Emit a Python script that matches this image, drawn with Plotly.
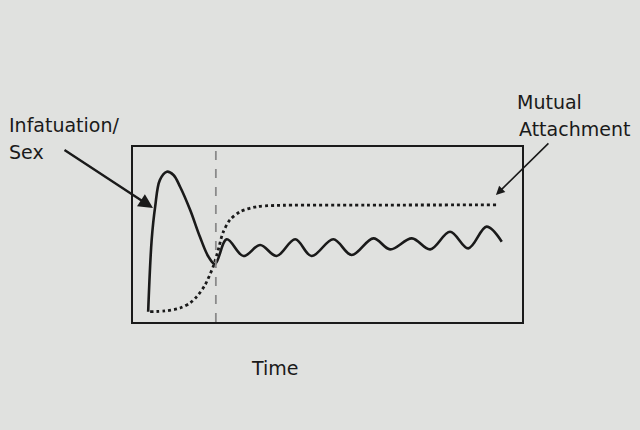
import plotly.graph_objects as go

# Infatuation / Sex curve (solid)
infat_x = [3.9, 4.8, 5.7, 6.9, 8.7, 10.4, 12.1, 14.7, 17.2, 19.4, 21.1,
           24.1, 28.4, 32.7, 36.9, 41.7, 45.9, 51.5, 56.2, 61.8, 66.1,
           71.7, 76.4, 81.5, 86.2, 90.9, 94.8]
infat_y = [5.9, 46.9, 65.9, 81.1, 85.9, 84.0, 77.3, 64.0, 48.7, 37.3, 33.1,
           47.3, 37.7, 44.0, 37.7, 47.3, 37.7, 47.3, 38.3, 47.8, 41.5,
           47.8, 41.5, 51.6, 42.1, 54.5, 45.9]

# Mutual attachment curve (dotted)
attach_x = [4.4, 8.2, 12.1, 14.7, 16.4, 18.5, 20.6, 21.9, 23.1, 24.9, 27.5,
            31.8, 36.5, 60.0, 93.5]
attach_y = [5.9, 6.3, 8.0, 10.9, 14.5, 21.1, 31.6, 41.1, 50.9, 58.3, 63.0,
            65.9, 66.6, 66.8, 66.9]

divider_x = 21.3
x_label = "Time"
label_infat = ["Infatuation/", "Sex"]
label_attach = ["Mutual", "Attachment"]

BG = "#e0e1df"
INK = "#1a1a1a"
FONT = "DejaVu Sans"

fig = go.Figure()
fig.add_trace(go.Scatter(x=infat_x, y=infat_y, mode="lines",
                         line=dict(color=INK, width=2.6, shape="spline", smoothing=1.0),
                         showlegend=False, hoverinfo="skip"))
fig.add_trace(go.Scatter(x=attach_x, y=attach_y, mode="lines",
                         line=dict(color=INK, width=2.8, dash="dot", shape="spline", smoothing=0.8),
                         showlegend=False, hoverinfo="skip"))

fig.add_shape(type="line", xref="x", yref="paper", x0=divider_x, x1=divider_x,
              y0=0, y1=1, line=dict(color="#8a8a8a", width=1.8, dash="dash"))

txt = dict(family=FONT, size=19, color=INK)
fig.add_annotation(xref="paper", yref="paper", x=-0.324, y=1.123, text=label_infat[0],
                   showarrow=False, xanchor="left", yanchor="middle", font=txt)
fig.add_annotation(xref="paper", yref="paper", x=-0.324, y=0.971, text=label_infat[1],
                   showarrow=False, xanchor="left", yanchor="middle", font=txt)
fig.add_annotation(xref="paper", yref="paper", x=0.982, y=1.257, text=label_attach[0],
                   showarrow=False, xanchor="left", yanchor="middle", font=txt)
fig.add_annotation(xref="paper", yref="paper", x=0.987, y=1.103, text=label_attach[1],
                   showarrow=False, xanchor="left", yanchor="middle", font=txt)
fig.add_annotation(xref="paper", yref="paper", x=0.365, y=-0.263, text=x_label,
                   showarrow=False, xanchor="center", yanchor="middle", font=txt)

# arrows
fig.add_annotation(xref="paper", yref="paper", x=0.0514, y=0.651, text="",
                   showarrow=True, ax=-90, ay=-59, arrowhead=2, arrowsize=1.2,
                   arrowwidth=2.4, arrowcolor=INK)
fig.add_annotation(xref="paper", yref="paper", x=0.933, y=0.726, text="",
                   showarrow=True, ax=54, ay=-53, arrowhead=2, arrowsize=1.1,
                   arrowwidth=1.6, arrowcolor=INK)

axis = dict(range=[0, 100], showgrid=False, zeroline=False, showticklabels=False,
            ticks="", showline=True, mirror=True, linecolor=INK, linewidth=2,
            fixedrange=True)
fig.update_layout(width=640, height=430, paper_bgcolor=BG, plot_bgcolor=BG,
                  margin=dict(l=133, r=118, t=147, b=108),
                  xaxis=axis, yaxis=axis)

fig.write_html("out.html",
               config={"displayModeBar": False, "staticPlot": True},
               post_script="document.body.style.margin='0';"
                           "document.body.style.background='" + BG + "';")
